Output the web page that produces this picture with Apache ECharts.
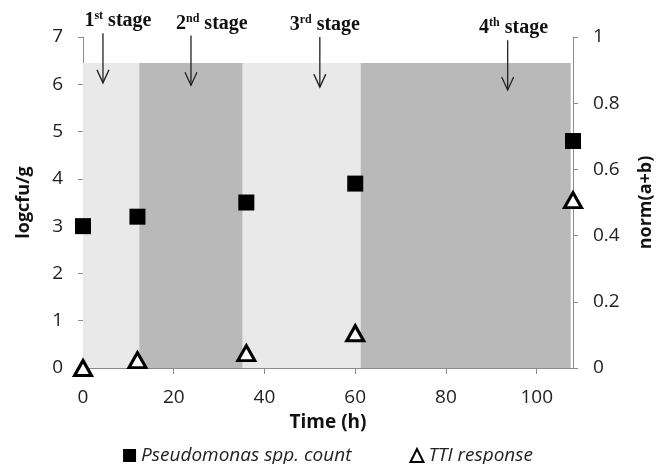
<!DOCTYPE html>
<html>
<head>
<meta charset="utf-8">
<script src="https://cdn.jsdelivr.net/npm/echarts@6/dist/echarts.min.js"></script>
<style>
  html, body { margin: 0; padding: 0; background: #fff; }
  #chart { width: 656px; height: 464px; }
</style>
</head>
<body>
<div id="chart"></div>
<script>
// sampling times (h)
const times = [0, 12, 36, 60, 108];
// Pseudomonas spp. count, logcfu/g (left axis)
const pseudomonas = [3.0, 3.2, 3.5, 3.9, 4.8];
// TTI response, norm(a+b) (right axis)
const tti = [0.0, 0.024, 0.045, 0.105, 0.507];

// storage stages shown as shaded bands
const bandEdges = [0, 12.4, 35.2, 61.2, 107.5];
const bandTop = 6.45;

// stage arrows
const stageNum = ['1', '2', '3', '4'];
const stageSup = ['st', 'nd', 'rd', 'th'];
const arrowX = [4.4, 23.8, 52.2, 93.6];
const arrowTop = [7.08, 7.03, 7.0, 6.93];
const arrowBottom = [6.03, 5.98, 5.94, 5.88];
const stageLabelX = [7.7, 28.4, 53.3, 94.9];

const xTicks = [0, 20, 40, 60, 80, 100];

const chart = echarts.init(document.getElementById('chart'), null, { renderer: 'canvas' });

const axisGray = '#8c8c8c';
const sans = 'Open Sans';

const bands = [];
for (let i = 0; i < bandEdges.length - 1; i++) {
    bands.push([
        { coord: [bandEdges[i], 0], itemStyle: { color: i % 2 === 0 ? '#e9e9e9' : '#b9b9b9' } },
        { coord: [bandEdges[i + 1], bandTop] }
    ]);
}

const arrowData = arrowX.map((x, i) => [x, arrowTop[i], arrowBottom[i], stageLabelX[i]]);

function renderArrow(params, api) {
    const i = params.dataIndex;
    const p0 = api.coord([api.value(0), api.value(1)]);
    const p1 = api.coord([api.value(0), api.value(2)]);
    const pl = api.coord([api.value(3), api.value(1)]);
    return {
        type: 'group',
        children: [
            {
                type: 'line',
                shape: { x1: p0[0], y1: p0[1], x2: p1[0], y2: p1[1] },
                style: { stroke: '#222', lineWidth: 1.3 }
            },
            {
                type: 'polyline',
                shape: { points: [[p1[0] - 6, p1[1] - 13], [p1[0], p1[1]], [p1[0] + 6, p1[1] - 13]] },
                style: { stroke: '#222', lineWidth: 1.3, fill: null }
            },
            {
                type: 'text',
                x: pl[0],
                y: pl[1] - 12,
                style: {
                    text: '{n|' + stageNum[i] + '}{s|' + stageSup[i] + '}{n| stage}',
                    align: 'center',
                    verticalAlign: 'middle',
                    rich: {
                        n: { fontFamily: 'Liberation Serif', fontWeight: 'bold', fontSize: 20, lineHeight: 22, fill: '#111' },
                        s: { fontFamily: 'Liberation Serif', fontWeight: 'bold', fontSize: 12, lineHeight: 14, verticalAlign: 'top', fill: '#111' }
                    }
                }
            }
        ]
    };
}

let option = {
    animation: false,
    backgroundColor: '#fff',
    grid: { left: 83, right: 83, top: 37, bottom: 96, outerBoundsMode: 'none' },
    legend: {
        top: 441,
        left: 'center',
        itemGap: 58,
        itemWidth: 13,
        itemHeight: 13,
        textStyle: { fontFamily: sans, fontStyle: 'italic', fontSize: 19, color: '#222' },
        data: [
            { name: 'Pseudomonas spp. count', icon: 'rect' },
            { name: 'TTI response', icon: 'triangle' }
        ]
    },
    xAxis: {
        type: 'value',
        min: 0,
        max: 108,
        interval: 20,
        name: 'Time (h)',
        nameLocation: 'middle',
        nameGap: 45,
        nameTextStyle: { fontFamily: sans, fontWeight: 'bold', fontSize: 19, color: '#111' },
        axisLine: { lineStyle: { color: axisGray } },
        axisTick: { length: 6, lineStyle: { color: axisGray } },
        axisLabel: {
            showMaxLabel: false,
            margin: 20,
            fontFamily: sans, fontSize: 19, color: '#222',
            formatter: (v) => (xTicks.includes(v) ? String(v) : '')
        },
        splitLine: { show: false }
    },
    yAxis: [
        {
            type: 'value',
            min: 0,
            max: 7,
            interval: 1,
            name: 'logcfu/g',
            nameLocation: 'middle',
            nameGap: 50,
            nameRotate: 90,
            nameTextStyle: { fontFamily: sans, fontWeight: 'bold', fontSize: 18, color: '#111' },
            axisLine: { show: true, lineStyle: { color: axisGray } },
            axisTick: { show: true, length: 5, lineStyle: { color: axisGray } },
            axisLabel: { margin: 20, fontFamily: sans, fontSize: 19, color: '#222' },
            splitLine: { show: false }
        },
        {
            type: 'value',
            min: 0,
            max: 1,
            interval: 0.2,
            position: 'right',
            name: 'norm(a+b)',
            nameLocation: 'middle',
            nameGap: 64,
            nameRotate: 90,
            nameTextStyle: { fontFamily: sans, fontWeight: 'bold', fontSize: 18, color: '#111' },
            axisLine: { show: true, lineStyle: { color: axisGray } },
            axisTick: { show: true, length: 5, lineStyle: { color: axisGray } },
            axisLabel: {
                margin: 20, fontFamily: sans, fontSize: 19, color: '#222',
                formatter: (v) => String(Math.round(v * 10) / 10)
            },
            splitLine: { show: false }
        }
    ],
    series: [
        {
            name: 'Pseudomonas spp. count',
            type: 'scatter',
            yAxisIndex: 0,
            symbol: 'rect',
            symbolSize: 16,
            itemStyle: { color: '#000', opacity: 1 },
            data: times.map((t, i) => [t, pseudomonas[i]]),
            z: 5,
            markArea: {
                silent: true,
                z: 1,
                data: bands
            }
        },
        {
            name: 'TTI response',
            type: 'scatter',
            yAxisIndex: 1,
            symbol: 'triangle',
            symbolSize: [17, 15],
            itemStyle: { color: '#fff', borderColor: '#000', borderWidth: 3, opacity: 1 },
            data: times.map((t, i) => [t, tti[i]]),
            z: 6
        },
        {
            type: 'custom',
            yAxisIndex: 0,
            silent: true,
            clip: false,
            renderItem: renderArrow,
            data: arrowData,
            z: 7
        }
    ]
};

option && chart.setOption(option);
</script>
</body>
</html>
